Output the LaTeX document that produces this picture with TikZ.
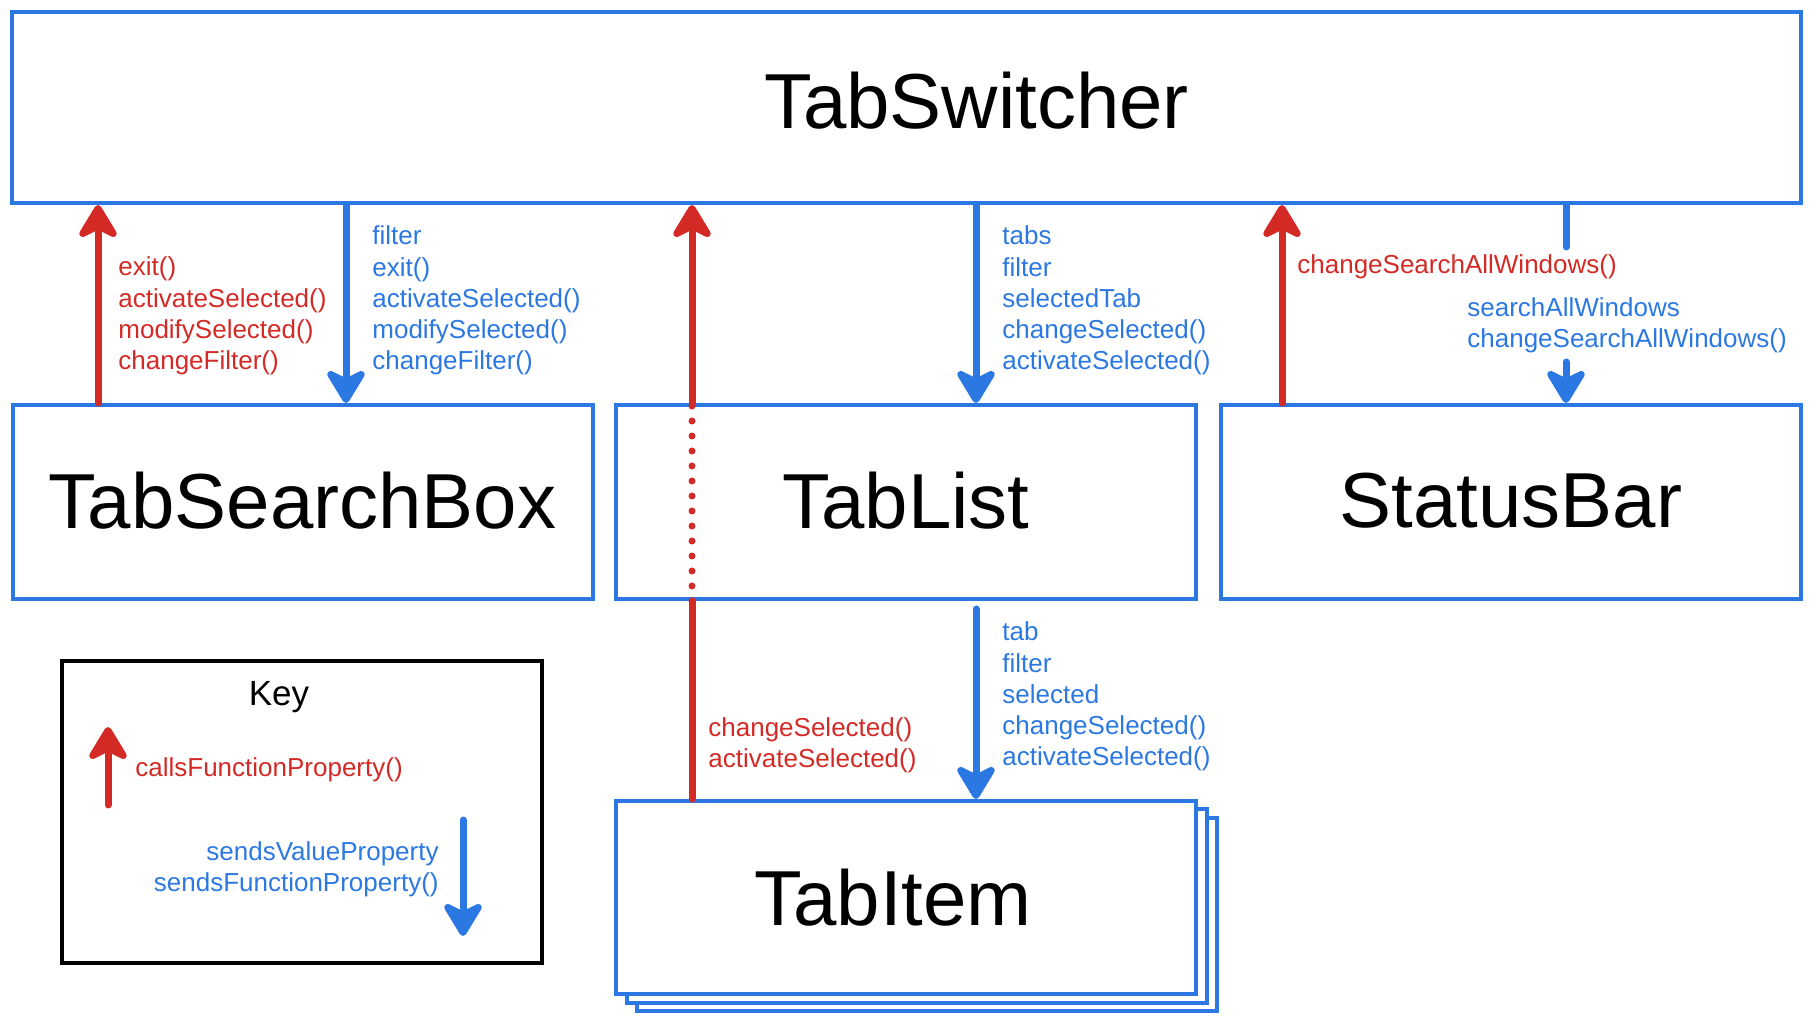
\documentclass[tikz,border=0pt]{standalone}
\usepackage{fontspec}
\setmainfont{Liberation Sans}
\usetikzlibrary{arrows.meta}
\definecolor{tabblue}{RGB}{44,120,226}
\definecolor{tabred}{RGB}{212,42,38}

\begin{document}
\begin{tikzpicture}[x=0.5pt,y=-0.5pt,
    comp/.style={draw=tabblue,line width=2pt,fill=white,inner sep=0pt,font=\fontsize{39}{44}\selectfont,minimum width=290pt,minimum height=97pt},
    calls/.style={draw=tabred,line width=3.5pt,line cap=round,-{Stealth[length=20pt,width=24pt,inset=6pt,round]}},
    sends/.style={calls,draw=tabblue},
    callt/.style={text=tabred,align=left,anchor=west,inner sep=0pt,font=\fontsize{13}{15.6}\selectfont},
    sendt/.style={callt,text=tabblue}]
  \useasboundingbox (0,0) rectangle (1816,1020);
  \node[comp,minimum width=894.5pt,minimum height=95.5pt] (sw) at (906.5,107.5) {\hspace*{70pt}\raisebox{7pt}{TabSwitcher}};
  \node[comp] (sbox) at (302.5,502) {\raisebox{2pt}{TabSearchBox}};
  \node[comp] (tlist) at (906,502) {\raisebox{2pt}{TabList}};
  \node[comp] (sbar) at (1511,502) {\raisebox{2pt}{StatusBar}};
  \foreach \d in {2,1}
    \draw[comp] (616+10.5*\d,801+8.5*\d) rectangle (1196+10.5*\d,994+8.5*\d);
  \node[comp,minimum height=96.5pt] (titem) at (906,897.5) {TabItem\hspace*{13pt}};
  % columns of the connectors
  \coordinate (c1) at (98,0);
  \coordinate (c2) at (346,0);
  \coordinate (c3) at (692,0);
  \coordinate (c4) at (976,0);
  \coordinate (c5) at (1282,0);
  \coordinate (c6) at (1566,0);
  \coordinate (gapa) at (1566,247);
  \coordinate (gapb) at (1566,362);
  \draw[calls] (sbox.north -| c1) -- (sw.south -| c1);
  \draw[sends] (sw.south -| c2) -- (sbox.north -| c2);
  \draw[calls,-] (titem.north -| c3) -- (tlist.south -| c3);
  \draw[calls,-,dash pattern=on 0pt off 7.5pt] (tlist.south -| c3) -- (tlist.north -| c3);
  \draw[calls] (tlist.north -| c3) -- (sw.south -| c3);
  \draw[sends] (sw.south -| c4) -- (tlist.north -| c4);
  \draw[sends,shorten <=4pt] (tlist.south -| c4) -- (titem.north -| c4);
  \draw[calls] (sbar.north -| c5) -- (sw.south -| c5);
  \draw[sends,-] (sw.south -| c6) -- (gapa);
  \draw[sends] (gapb) -- (sbar.north -| c6);
  \node[callt] (l1) at (118,316) {exit()\\activateSelected()\\modifySelected()\\changeFilter()};
  \node[sendt] (l2) at (372,300.5) {filter\\exit()\\activateSelected()\\modifySelected()\\changeFilter()};
  \node[sendt] (l3) at (1002,300.5) {tabs\\filter\\selectedTab\\changeSelected()\\activateSelected()};
  \node[callt] (l4) at (1297,267) {changeSearchAllWindows()};
  \node[sendt] (l5) at (1467,325.5) {searchAllWindows\\changeSearchAllWindows()};
  \node[callt] (l6) at (708,745.5) {changeSelected()\\activateSelected()};
  \node[sendt] (l7) at (1002,696.5) {tab\\filter\\selected\\changeSelected()\\activateSelected()};
  % key
  \node[draw,line width=2pt,minimum width=240pt,minimum height=151pt,inner sep=0pt] (key) at (302,812) {};
  \node[font=\fontsize{17.5}{21}\selectfont] (keyt) at (279,697) {Key};
  \coordinate (ka) at (108,805);
  \coordinate (kb) at (108,727);
  \draw[calls] (ka) -- (kb);
  \node[callt] (kl1) at (135,770) {callsFunctionProperty()};
  \node[sendt,anchor=east,align=right] (kl2) at (439,869.5) {sendsValueProperty\\sendsFunctionProperty()};
  \coordinate (kc) at (463,820);
  \coordinate (kd) at (463,936);
  \draw[sends] (kc) -- (kd);
\end{tikzpicture}
\end{document}
